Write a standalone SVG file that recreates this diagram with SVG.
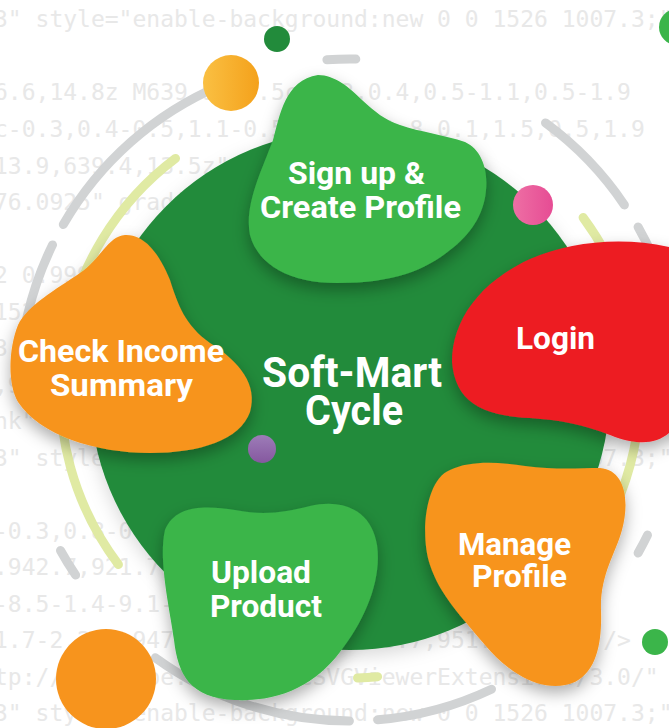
<svg xmlns="http://www.w3.org/2000/svg" width="669" height="728" viewBox="0 0 669 728">
<defs>
<style>
.bg{font-family:"DejaVu Sans Mono","Liberation Mono",monospace;font-size:23px;fill:#e8e8e8}
.gray{fill:none;stroke:#d1d3d4;stroke-width:9;stroke-linecap:round}
.lime{fill:none;stroke:#e0eaa3;stroke-width:9;stroke-linecap:round}
.lbl{font-family:Roboto,"Liberation Sans",sans-serif;font-weight:700;font-size:32px;fill:#fff;text-anchor:middle}
.big{font-size:42px}
.g{fill:#3bb54a}
.o{fill:#f7941d}
.r{fill:#ed1c24}
</style>
<filter id="sh" x="-30%" y="-30%" width="160%" height="170%">
<feDropShadow dx="0" dy="7" stdDeviation="8" flood-color="#000" flood-opacity="0.32"/>
</filter>
<filter id="sh2" x="-10%" y="-10%" width="120%" height="125%">
<feDropShadow dx="0" dy="6" stdDeviation="9" flood-color="#000" flood-opacity="0.15"/>
</filter>
<linearGradient id="gy" x1="0" y1="0" x2="1" y2="0"><stop offset="0" stop-color="#fac043"/><stop offset="1" stop-color="#f4a11b"/></linearGradient>
<linearGradient id="gp" x1="0" y1="0" x2="1" y2="0"><stop offset="0" stop-color="#ee6fa4"/><stop offset="1" stop-color="#e64c94"/></linearGradient>
<linearGradient id="gv" x1="0" y1="0" x2="0" y2="1"><stop offset="0" stop-color="#9d7cb8"/><stop offset="1" stop-color="#85589f"/></linearGradient>
</defs>
<rect width="669" height="728" fill="#fff"/>
<g id="background-code">
<text class="bg" x="-6" y="27">3" style="enable-background:new 0 0 1526 1007.3;"</text>
<text class="bg" x="-6" y="100">6.6,14.8z M639.9,13.5c-0.3,0.4,0.5-1.1,0.5-1.9</text>
<text class="bg" x="-6" y="137">c-0.3,0.4-0.5,1.1-0.5c0.5,0,1.8,0.1,1.5,0.5,1.9</text>
<text class="bg" x="-6" y="173.5">13.9,639.4,13.5z"/&gt;</text>
<text class="bg" x="-6" y="210">76.0925" gradientUnits="userSpaceOn</text>
<text class="bg" x="-6" y="283">2 0.9999 0.0112 -0.0112 0.9999 -8.3 4.9)"</text>
<text class="bg" x="-6" y="319.5"> 1526 1007.3;" xml:space="preserve"&gt;</text>
<text class="bg" x="-6" y="356">3.4,0.6,2.5c0.3,0.8,0.7,1.5,1.2,2.1</text>
<text class="bg" x="-6" y="392.5">,9.8c-0.4,0.5-1.1,0.5-1.9,0.1</text>
<text class="bg" x="-6" y="429">nk" X="0px" y="0px" viewBox="0 0 1526</text>
<text class="bg" x="-6" y="465.5">3" style="enable-background:new 0 0 1526 1007.3;"</text>
<text class="bg" x="-6" y="538.5">-0.3,0.8-0.9,1.3-1.6,1.6c-0.8,0.3-1.6,0.3-2.</text>
<text class="bg" x="-6" y="575">.942.7,921.7)" gradientUnits="userSpace</text>
<text class="bg" x="-6" y="611.5">-8.5-1.4-9.1-1.9c-0.7-0.2-1.3-0.4-2-0.7</text>
<text class="bg" x="-6" y="648">1.7-2.2c0,947.6-0.5H937.2V948.7,951.2,1.3z" /&gt;</text>
<text class="bg" x="-6" y="684.5">tp://ns.adobe.com/AdobeSVGViewerExtensions/3.0/"</text>
<text class="bg" x="-6" y="721">3" style="enable-background:new 0 0 1526 1007.3;"</text>
</g>
<g id="ring">
<path class="gray" d="M326.9,59.8 A331,331 0 0 1 355.8,59.05"/>
<path class="gray" d="M63.3,224.5 A331,331 0 0 1 220.7,85.3"/>
<path class="gray" d="M19.2,378.5 A331,331 0 0 1 52.5,244.9"/>
<path class="gray" d="M75.6,575.1 A331,331 0 0 1 60.5,550.5"/>
<path class="gray" d="M349.4,721 A331,331 0 0 1 155.4,657.8"/>
<path class="gray" d="M491.5,689.2 A331,331 0 0 1 377.7,719.8"/>
<path class="gray" d="M647.5,535.1 A331,331 0 0 1 638.1,553"/>
<path class="gray" d="M545.5,122.9 A331,331 0 0 1 624.4,204.9"/>
<path class="gray" d="M638.1,227 A331,331 0 0 1 679.7,361.2"/>
<path class="lime" d="M175.5,158.4 A290,290 0 0 0 118.4,564.5"/>
<path class="lime" d="M583.1,217.5 A290,290 0 0 1 614.9,507.9"/>
<path class="lime" d="M377.6,676.7 A288,288 0 0 1 357.5,677.9"/>
</g>
<g id="dots">
<circle id="dot-darkgreen" cx="277" cy="39" r="13" fill="#228b3b"/>
<circle id="dot-yellow" cx="231" cy="83" r="28" fill="url(#gy)"/>
<circle id="dot-green-topright" cx="677" cy="27" r="18" fill="#3bb54a"/>
<circle id="dot-green-right" cx="655" cy="642" r="13" fill="#3bb54a"/>
<circle id="dot-orange" cx="106" cy="679" r="50" fill="#f7941d"/>
</g>
<g id="hub">
<circle cx="350" cy="390" r="260" fill="#228b3b" filter="url(#sh2)"/>
</g>
<g id="node-signup">
<path class="g" filter="url(#sh)" d="M318,75 C335,75 350,88 362,100 C375,112 385,120 400,125 C420,132 445,135 465,142 C482,150 488,170 486,190 C484,215 470,235 450,250 C425,270 395,283 337,283 C290,283 258,265 250,235 C244,205 262,170 273,140 C280,115 285,80 318,75 Z"/>
<text class="lbl" x="356.5" y="184" textLength="137" lengthAdjust="spacingAndGlyphs">Sign up &amp;</text>
<text class="lbl" x="360.5" y="218" textLength="201" lengthAdjust="spacingAndGlyphs">Create Profile</text>
</g>
<circle id="dot-pink" cx="533" cy="205" r="20" fill="url(#gp)"/>
<g id="node-login">
<path class="r" filter="url(#sh)" d="M452,362 C452,320 480,282 530,259 C570,242 620,236 669,247 L700,255 L700,430 L669,433 C655,445 635,445 610,435 C585,425 560,420 530,418 C480,416 455,400 452,362 Z"/>
<text class="lbl" x="555.5" y="349" textLength="79" lengthAdjust="spacingAndGlyphs">Login</text>
</g>
<g id="node-income">
<path class="o" filter="url(#sh)" d="M125,235 C145,234 160,255 170,280 C178,305 185,325 210,343 C240,362 258,385 250,412 C240,440 200,453 150,453 C95,453 40,435 18,402 C8,385 8,350 18,325 C28,305 55,290 80,273 C100,260 108,236 125,235 Z"/>
<text class="lbl" x="121" y="362" textLength="206" lengthAdjust="spacingAndGlyphs">Check Income</text>
<text class="lbl" x="121.5" y="396" textLength="143" lengthAdjust="spacingAndGlyphs">Summary</text>
</g>
<g id="node-manage">
<path class="o" filter="url(#sh)" d="M450,470 C470,460 500,462 525,466 C555,470 580,468 600,468 C625,470 630,500 622,530 C615,555 600,575 601,610 C602,640 598,670 575,682 C545,695 510,675 485,645 C460,615 440,595 430,565 C420,535 425,480 450,470 Z"/>
<text class="lbl" x="514.5" y="555" textLength="113" lengthAdjust="spacingAndGlyphs">Manage</text>
<text class="lbl" x="519.5" y="587" textLength="95" lengthAdjust="spacingAndGlyphs">Profile</text>
</g>
<g id="node-upload">
<path class="g" filter="url(#sh)" d="M165,530 C175,505 205,505 235,510 C265,516 285,512 310,506 C345,498 372,512 377,545 C382,580 365,620 340,652 C315,685 280,702 235,700 C190,698 178,675 174,640 C170,610 158,560 165,530 Z"/>
<text class="lbl" x="261" y="583" textLength="100" lengthAdjust="spacingAndGlyphs">Upload</text>
<text class="lbl" x="266" y="617" textLength="112" lengthAdjust="spacingAndGlyphs">Product</text>
</g>
<g id="node-center">
<text class="lbl big" x="352" y="387" textLength="180" lengthAdjust="spacingAndGlyphs">Soft-Mart</text>
<text class="lbl big" x="354" y="425" textLength="98" lengthAdjust="spacingAndGlyphs">Cycle</text>
</g>
<circle id="dot-purple" cx="262" cy="449" r="14" fill="url(#gv)"/>
</svg>
